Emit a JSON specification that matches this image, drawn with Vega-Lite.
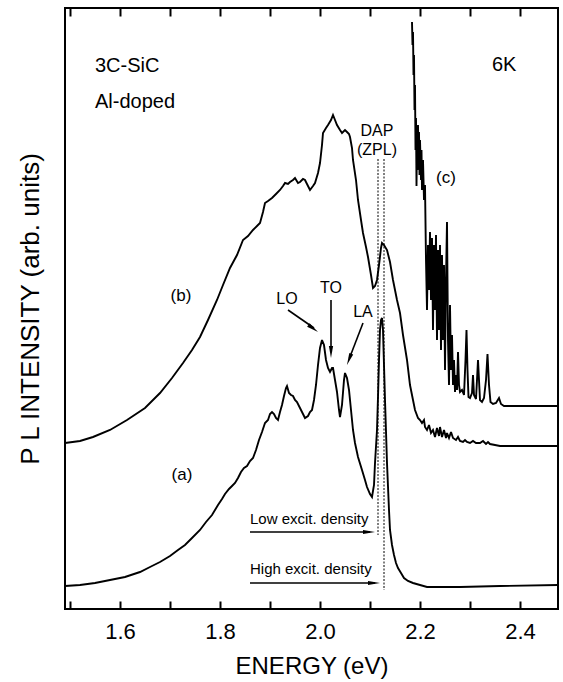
{
  "$schema": "https://vega.github.io/schema/vega-lite/v6.json",
  "width": 493,
  "height": 601,
  "autosize": {"type": "none"},
  "padding": {"left": 65, "top": 8, "right": 5, "bottom": 73},
  "config": {
    "font": "Liberation Sans",
    "view": {"stroke": "black", "strokeWidth": 2},
    "axis": {"grid": false, "domain": false, "labelColor": "black", "titleColor": "black", "tickColor": "black"}
  },
  "resolve": {"axis": {"x": "independent", "y": "independent"}},
  "datasets": {
    "curves": [
      {"s":"b","e":1.490,"i":166},{"s":"b","e":1.520,"i":168},{"s":"b","e":1.546,"i":172},{"s":"b","e":1.580,"i":179},{"s":"b","e":1.614,"i":189},{"s":"b","e":1.650,"i":201},{"s":"b","e":1.680,"i":216},{"s":"b","e":1.704,"i":231},{"s":"b","e":1.726,"i":246},{"s":"b","e":1.744,"i":259},{"s":"b","e":1.760,"i":272},{"s":"b","e":1.776,"i":289},{"s":"b","e":1.794,"i":309},{"s":"b","e":1.806,"i":324},{"s":"b","e":1.820,"i":341},{"s":"b","e":1.834,"i":354},{"s":"b","e":1.846,"i":369},{"s":"b","e":1.856,"i":373},{"s":"b","e":1.866,"i":379},{"s":"b","e":1.874,"i":383},{"s":"b","e":1.880,"i":386},{"s":"b","e":1.886,"i":397},{"s":"b","e":1.890,"i":406},{"s":"b","e":1.896,"i":408},{"s":"b","e":1.904,"i":411},{"s":"b","e":1.912,"i":415},{"s":"b","e":1.920,"i":419},{"s":"b","e":1.926,"i":423},{"s":"b","e":1.930,"i":426},{"s":"b","e":1.936,"i":425},{"s":"b","e":1.940,"i":427},{"s":"b","e":1.946,"i":429},{"s":"b","e":1.950,"i":431},{"s":"b","e":1.956,"i":426},{"s":"b","e":1.960,"i":427},{"s":"b","e":1.966,"i":430},{"s":"b","e":1.970,"i":429},{"s":"b","e":1.976,"i":423},{"s":"b","e":1.980,"i":419},{"s":"b","e":1.986,"i":423},{"s":"b","e":1.990,"i":426},{"s":"b","e":1.996,"i":436},{"s":"b","e":2.000,"i":446},{"s":"b","e":2.004,"i":464},{"s":"b","e":2.006,"i":476},{"s":"b","e":2.012,"i":481},{"s":"b","e":2.016,"i":484},{"s":"b","e":2.022,"i":489},{"s":"b","e":2.026,"i":494},{"s":"b","e":2.030,"i":489},{"s":"b","e":2.034,"i":484},{"s":"b","e":2.040,"i":479},{"s":"b","e":2.044,"i":476},{"s":"b","e":2.050,"i":479},{"s":"b","e":2.054,"i":477},{"s":"b","e":2.058,"i":475},{"s":"b","e":2.060,"i":472},{"s":"b","e":2.064,"i":461},{"s":"b","e":2.066,"i":449},{"s":"b","e":2.072,"i":429},{"s":"b","e":2.076,"i":409},{"s":"b","e":2.082,"i":389},{"s":"b","e":2.086,"i":376},{"s":"b","e":2.092,"i":362},{"s":"b","e":2.096,"i":352},{"s":"b","e":2.102,"i":334},{"s":"b","e":2.106,"i":321},{"s":"b","e":2.110,"i":323},{"s":"b","e":2.114,"i":329},{"s":"b","e":2.118,"i":344},{"s":"b","e":2.122,"i":361},{"s":"b","e":2.124,"i":366},{"s":"b","e":2.128,"i":364},{"s":"b","e":2.134,"i":359},{"s":"b","e":2.140,"i":347},{"s":"b","e":2.146,"i":329},{"s":"b","e":2.154,"i":309},{"s":"b","e":2.160,"i":296},{"s":"b","e":2.166,"i":274},{"s":"b","e":2.174,"i":249},{"s":"b","e":2.180,"i":224},{"s":"b","e":2.186,"i":209},{"s":"b","e":2.190,"i":199},{"s":"b","e":2.196,"i":191},{"s":"b","e":2.200,"i":189},{"s":"b","e":2.204,"i":186},{"s":"b","e":2.208,"i":189},{"s":"b","e":2.210,"i":182},{"s":"b","e":2.214,"i":179},{"s":"b","e":2.218,"i":184},{"s":"b","e":2.222,"i":176},{"s":"b","e":2.226,"i":179},{"s":"b","e":2.230,"i":172},{"s":"b","e":2.234,"i":181},{"s":"b","e":2.238,"i":173},{"s":"b","e":2.240,"i":182},{"s":"b","e":2.244,"i":172},{"s":"b","e":2.248,"i":179},{"s":"b","e":2.252,"i":171},{"s":"b","e":2.254,"i":176},{"s":"b","e":2.258,"i":171},{"s":"b","e":2.262,"i":177},{"s":"b","e":2.266,"i":171},{"s":"b","e":2.272,"i":169},{"s":"b","e":2.276,"i":172},{"s":"b","e":2.280,"i":168},{"s":"b","e":2.286,"i":167},{"s":"b","e":2.290,"i":169},{"s":"b","e":2.294,"i":167},{"s":"b","e":2.300,"i":166},{"s":"b","e":2.306,"i":168},{"s":"b","e":2.312,"i":166},{"s":"b","e":2.320,"i":166},{"s":"b","e":2.326,"i":168},{"s":"b","e":2.332,"i":165},{"s":"b","e":2.336,"i":167},{"s":"b","e":2.340,"i":165},{"s":"b","e":2.350,"i":164},{"s":"b","e":2.360,"i":163},{"s":"b","e":2.476,"i":163},
      {"s":"a","e":1.490,"i":23},{"s":"a","e":1.520,"i":24},{"s":"a","e":1.550,"i":26},{"s":"a","e":1.580,"i":29},{"s":"a","e":1.610,"i":32},{"s":"a","e":1.640,"i":37},{"s":"a","e":1.660,"i":42},{"s":"a","e":1.680,"i":47},{"s":"a","e":1.700,"i":53},{"s":"a","e":1.716,"i":59},{"s":"a","e":1.730,"i":64},{"s":"a","e":1.744,"i":71},{"s":"a","e":1.760,"i":79},{"s":"a","e":1.772,"i":87},{"s":"a","e":1.784,"i":94},{"s":"a","e":1.796,"i":104},{"s":"a","e":1.804,"i":110},{"s":"a","e":1.810,"i":115},{"s":"a","e":1.818,"i":120},{"s":"a","e":1.824,"i":123},{"s":"a","e":1.830,"i":126},{"s":"a","e":1.836,"i":131},{"s":"a","e":1.842,"i":137},{"s":"a","e":1.848,"i":141},{"s":"a","e":1.854,"i":143},{"s":"a","e":1.860,"i":148},{"s":"a","e":1.866,"i":151},{"s":"a","e":1.872,"i":159},{"s":"a","e":1.878,"i":169},{"s":"a","e":1.884,"i":177},{"s":"a","e":1.890,"i":186},{"s":"a","e":1.896,"i":189},{"s":"a","e":1.900,"i":195},{"s":"a","e":1.904,"i":197},{"s":"a","e":1.908,"i":195},{"s":"a","e":1.912,"i":191},{"s":"a","e":1.916,"i":189},{"s":"a","e":1.920,"i":197},{"s":"a","e":1.924,"i":204},{"s":"a","e":1.928,"i":213},{"s":"a","e":1.932,"i":221},{"s":"a","e":1.934,"i":223},{"s":"a","e":1.938,"i":216},{"s":"a","e":1.942,"i":214},{"s":"a","e":1.946,"i":213},{"s":"a","e":1.950,"i":209},{"s":"a","e":1.954,"i":207},{"s":"a","e":1.960,"i":201},{"s":"a","e":1.966,"i":195},{"s":"a","e":1.970,"i":191},{"s":"a","e":1.976,"i":193},{"s":"a","e":1.980,"i":197},{"s":"a","e":1.984,"i":199},{"s":"a","e":1.988,"i":209},{"s":"a","e":1.992,"i":224},{"s":"a","e":1.996,"i":244},{"s":"a","e":2.000,"i":261},{"s":"a","e":2.004,"i":269},{"s":"a","e":2.008,"i":264},{"s":"a","e":2.012,"i":249},{"s":"a","e":2.016,"i":241},{"s":"a","e":2.020,"i":237},{"s":"a","e":2.024,"i":241},{"s":"a","e":2.026,"i":241},{"s":"a","e":2.030,"i":229},{"s":"a","e":2.034,"i":217},{"s":"a","e":2.038,"i":199},{"s":"a","e":2.040,"i":192},{"s":"a","e":2.044,"i":204},{"s":"a","e":2.048,"i":229},{"s":"a","e":2.050,"i":236},{"s":"a","e":2.054,"i":231},{"s":"a","e":2.058,"i":219},{"s":"a","e":2.062,"i":199},{"s":"a","e":2.066,"i":179},{"s":"a","e":2.070,"i":166},{"s":"a","e":2.076,"i":152},{"s":"a","e":2.084,"i":139},{"s":"a","e":2.090,"i":129},{"s":"a","e":2.094,"i":122},{"s":"a","e":2.100,"i":115},{"s":"a","e":2.104,"i":112},{"s":"a","e":2.108,"i":124},{"s":"a","e":2.110,"i":146},{"s":"a","e":2.114,"i":179},{"s":"a","e":2.116,"i":212},{"s":"a","e":2.118,"i":249},{"s":"a","e":2.120,"i":279},{"s":"a","e":2.122,"i":289},{"s":"a","e":2.124,"i":291},{"s":"a","e":2.126,"i":279},{"s":"a","e":2.130,"i":209},{"s":"a","e":2.134,"i":146},{"s":"a","e":2.138,"i":99},{"s":"a","e":2.140,"i":79},{"s":"a","e":2.144,"i":64},{"s":"a","e":2.148,"i":54},{"s":"a","e":2.152,"i":46},{"s":"a","e":2.156,"i":41},{"s":"a","e":2.162,"i":36},{"s":"a","e":2.168,"i":31},{"s":"a","e":2.176,"i":28},{"s":"a","e":2.186,"i":26},{"s":"a","e":2.200,"i":24},{"s":"a","e":2.214,"i":22},{"s":"a","e":2.240,"i":22},{"s":"a","e":2.280,"i":22},{"s":"a","e":2.360,"i":23},{"s":"a","e":2.476,"i":24},
      {"s":"c","e":2.184,"i":587},{"s":"c","e":2.185,"i":564},{"s":"c","e":2.186,"i":577},{"s":"c","e":2.187,"i":534},{"s":"c","e":2.188,"i":554},{"s":"c","e":2.189,"i":499},{"s":"c","e":2.190,"i":524},{"s":"c","e":2.191,"i":459},{"s":"c","e":2.192,"i":491},{"s":"c","e":2.193,"i":423},{"s":"c","e":2.194,"i":474},{"s":"c","e":2.195,"i":439},{"s":"c","e":2.196,"i":484},{"s":"c","e":2.197,"i":449},{"s":"c","e":2.198,"i":477},{"s":"c","e":2.199,"i":434},{"s":"c","e":2.200,"i":469},{"s":"c","e":2.202,"i":429},{"s":"c","e":2.203,"i":459},{"s":"c","e":2.204,"i":419},{"s":"c","e":2.206,"i":449},{"s":"c","e":2.208,"i":409},{"s":"c","e":2.210,"i":424},{"s":"c","e":2.212,"i":349},{"s":"c","e":2.214,"i":299},{"s":"c","e":2.216,"i":364},{"s":"c","e":2.218,"i":319},{"s":"c","e":2.220,"i":377},{"s":"c","e":2.222,"i":309},{"s":"c","e":2.224,"i":371},{"s":"c","e":2.226,"i":279},{"s":"c","e":2.228,"i":364},{"s":"c","e":2.230,"i":299},{"s":"c","e":2.232,"i":374},{"s":"c","e":2.234,"i":269},{"s":"c","e":2.236,"i":359},{"s":"c","e":2.238,"i":279},{"s":"c","e":2.240,"i":364},{"s":"c","e":2.242,"i":259},{"s":"c","e":2.244,"i":354},{"s":"c","e":2.246,"i":269},{"s":"c","e":2.248,"i":344},{"s":"c","e":2.250,"i":239},{"s":"c","e":2.252,"i":329},{"s":"c","e":2.254,"i":387},{"s":"c","e":2.256,"i":269},{"s":"c","e":2.258,"i":224},{"s":"c","e":2.260,"i":304},{"s":"c","e":2.262,"i":239},{"s":"c","e":2.264,"i":274},{"s":"c","e":2.266,"i":224},{"s":"c","e":2.268,"i":249},{"s":"c","e":2.270,"i":217},{"s":"c","e":2.272,"i":234},{"s":"c","e":2.274,"i":219},{"s":"c","e":2.276,"i":257},{"s":"c","e":2.278,"i":224},{"s":"c","e":2.280,"i":217},{"s":"c","e":2.284,"i":219},{"s":"c","e":2.288,"i":214},{"s":"c","e":2.291,"i":249},{"s":"c","e":2.293,"i":279},{"s":"c","e":2.295,"i":239},{"s":"c","e":2.297,"i":212},{"s":"c","e":2.300,"i":211},{"s":"c","e":2.304,"i":216},{"s":"c","e":2.306,"i":234},{"s":"c","e":2.308,"i":214},{"s":"c","e":2.312,"i":210},{"s":"c","e":2.314,"i":229},{"s":"c","e":2.316,"i":249},{"s":"c","e":2.318,"i":229},{"s":"c","e":2.320,"i":209},{"s":"c","e":2.324,"i":207},{"s":"c","e":2.328,"i":211},{"s":"c","e":2.332,"i":229},{"s":"c","e":2.335,"i":255},{"s":"c","e":2.338,"i":224},{"s":"c","e":2.341,"i":207},{"s":"c","e":2.346,"i":205},{"s":"c","e":2.352,"i":206},{"s":"c","e":2.358,"i":211},{"s":"c","e":2.362,"i":205},{"s":"c","e":2.368,"i":203},{"s":"c","e":2.476,"i":203}
    ],
    "dash": [
      {"e": 2.116, "i1": 450, "i2": 74},
      {"e": 2.128, "i1": 450, "i2": 19}
    ],
    "shafts": [
      {"n": "Low", "e1": 1.86, "e2": 2.10, "i1": 77, "i2": 77},
      {"n": "High", "e1": 1.86, "e2": 2.11, "i1": 26, "i2": 26},
      {"n": "LO", "e1": 1.936, "e2": 1.988, "i1": 299, "i2": 281},
      {"n": "TO", "e1": 2.022, "e2": 2.022, "i1": 309, "i2": 259},
      {"n": "LA", "e1": 2.086, "e2": 2.059, "i1": 286, "i2": 251}
    ],
    "heads": [
      {"n": "Low", "e": 2.098, "i": 77},
      {"n": "High", "e": 2.108, "i": 26},
      {"n": "LO", "e": 1.9864, "i": 280.5},
      {"n": "TO", "e": 2.022, "i": 257},
      {"n": "LA", "e": 2.0582, "i": 249.6}
    ],
    "texts": [
      {"g": "big", "t": "3C-SiC", "e": 1.55, "i": 543},
      {"g": "big", "t": "Al-doped", "e": 1.55, "i": 507},
      {"g": "big", "t": "6K", "e": 2.344, "i": 544},
      {"g": "curve", "t": "(a)", "e": 1.724, "i": 134},
      {"g": "curve", "t": "(b)", "e": 1.722, "i": 313},
      {"g": "curve", "t": "(c)", "e": 2.252, "i": 431},
      {"g": "mode", "t": "LO", "e": 1.934, "i": 310},
      {"g": "mode", "t": "TO", "e": 2.022, "i": 321},
      {"g": "mode", "t": "LA", "e": 2.086, "i": 297},
      {"g": "mode", "t": "DAP", "e": 2.114, "i": 478},
      {"g": "mode", "t": "(ZPL)", "e": 2.114, "i": 459},
      {"g": "arrow", "t": "Low excit. density", "e": 1.86, "i": 90},
      {"g": "arrow", "t": "High excit. density", "e": 1.86, "i": 40}
    ]
  },
  "layer": [
    {
      "data": {"name": "curves"},
      "mark": {"type": "line", "stroke": "black", "strokeWidth": 1.9, "strokeJoin": "miter", "strokeMiterLimit": 3},
      "encoding": {
        "x": {"field": "e", "type": "quantitative",
              "scale": {"domain": [1.49, 2.476], "nice": false, "zero": false},
              "axis": {"orient": "bottom", "values": [1.5,1.6,1.7,1.8,1.9,2.0,2.1,2.2,2.3,2.4], "format": ".1f",
                       "labelExpr": "indexof(['1.6','1.8','2.0','2.2','2.4'], datum.label) >= 0 ? datum.label : ''",
                       "tickSize": -8, "tickWidth": 2, "labelPadding": 20, "labelFontSize": 22,
                       "title": "ENERGY (eV)", "titleFontSize": 24, "titleFontWeight": "normal", "titlePadding": 12}},
        "y": {"field": "i", "type": "quantitative",
              "scale": {"domain": [0, 601], "nice": false, "zero": false},
              "axis": {"orient": "left", "labels": false, "ticks": false, "title": "P L INTENSITY (arb. units)",
                       "titleFontSize": 26, "titleFontWeight": "normal", "titlePadding": 22}},
        "detail": {"field": "s"}
      }
    },
    {
      "data": {"name": "dash"},
      "mark": {"type": "rule", "stroke": "black", "strokeWidth": 1, "strokeDash": [2, 1.5]},
      "encoding": {
        "x": {"field": "e", "type": "quantitative",
              "axis": {"orient": "top", "values": [1.5,1.6,1.7,1.8,1.9,2.0,2.1,2.2,2.3,2.4], "labels": false,
                       "tickSize": -8, "tickWidth": 2, "title": null}},
        "y": {"field": "i1", "type": "quantitative", "axis": null},
        "y2": {"field": "i2"}
      }
    },
    {
      "data": {"name": "shafts"},
      "mark": {"type": "rule", "stroke": "black", "strokeWidth": 1.6},
      "encoding": {
        "x": {"field": "e1", "type": "quantitative", "axis": null},
        "x2": {"field": "e2"},
        "y": {"field": "i1", "type": "quantitative", "axis": null},
        "y2": {"field": "i2"}
      }
    },
    {
      "data": {"name": "heads"},
      "transform": [{"filter": "datum.n == 'Low' || datum.n == 'High'"}],
      "mark": {"type": "point", "shape": "M0,-1L0.35,1L-0.35,1Z", "filled": true, "color": "black", "opacity": 1, "size": 144, "angle": 90},
      "encoding": {
        "x": {"field": "e", "type": "quantitative", "axis": null},
        "y": {"field": "i", "type": "quantitative", "axis": null}
      }
    },
    {
      "data": {"name": "heads"},
      "transform": [{"filter": "datum.n == 'LO'"}],
      "mark": {"type": "point", "shape": "M0,-1L0.35,1L-0.35,1Z", "filled": true, "color": "black", "opacity": 1, "size": 144, "angle": 126},
      "encoding": {
        "x": {"field": "e", "type": "quantitative", "axis": null},
        "y": {"field": "i", "type": "quantitative", "axis": null}
      }
    },
    {
      "data": {"name": "heads"},
      "transform": [{"filter": "datum.n == 'TO'"}],
      "mark": {"type": "point", "shape": "M0,-1L0.35,1L-0.35,1Z", "filled": true, "color": "black", "opacity": 1, "size": 144, "angle": 180},
      "encoding": {
        "x": {"field": "e", "type": "quantitative", "axis": null},
        "y": {"field": "i", "type": "quantitative", "axis": null}
      }
    },
    {
      "data": {"name": "heads"},
      "transform": [{"filter": "datum.n == 'LA'"}],
      "mark": {"type": "point", "shape": "M0,-1L0.35,1L-0.35,1Z", "filled": true, "color": "black", "opacity": 1, "size": 144, "angle": 201},
      "encoding": {
        "x": {"field": "e", "type": "quantitative", "axis": null},
        "y": {"field": "i", "type": "quantitative", "axis": null}
      }
    },
    {
      "data": {"name": "texts"},
      "transform": [{"filter": "datum.g == 'big'"}],
      "mark": {"type": "text", "align": "left", "baseline": "middle", "fontSize": 20, "color": "black"},
      "encoding": {
        "x": {"field": "e", "type": "quantitative", "axis": null},
        "y": {"field": "i", "type": "quantitative", "axis": null},
        "text": {"field": "t"}
      }
    },
    {
      "data": {"name": "texts"},
      "transform": [{"filter": "datum.g == 'curve'"}],
      "mark": {"type": "text", "align": "center", "baseline": "middle", "fontSize": 17, "color": "black"},
      "encoding": {
        "x": {"field": "e", "type": "quantitative", "axis": null},
        "y": {"field": "i", "type": "quantitative", "axis": null},
        "text": {"field": "t"}
      }
    },
    {
      "data": {"name": "texts"},
      "transform": [{"filter": "datum.g == 'mode'"}],
      "mark": {"type": "text", "align": "center", "baseline": "middle", "fontSize": 16, "color": "black"},
      "encoding": {
        "x": {"field": "e", "type": "quantitative", "axis": null},
        "y": {"field": "i", "type": "quantitative", "axis": null},
        "text": {"field": "t"}
      }
    },
    {
      "data": {"name": "texts"},
      "transform": [{"filter": "datum.g == 'arrow'"}],
      "mark": {"type": "text", "align": "left", "baseline": "middle", "fontSize": 15, "color": "black"},
      "encoding": {
        "x": {"field": "e", "type": "quantitative", "axis": null},
        "y": {"field": "i", "type": "quantitative", "axis": null},
        "text": {"field": "t"}
      }
    }
  ]
}
